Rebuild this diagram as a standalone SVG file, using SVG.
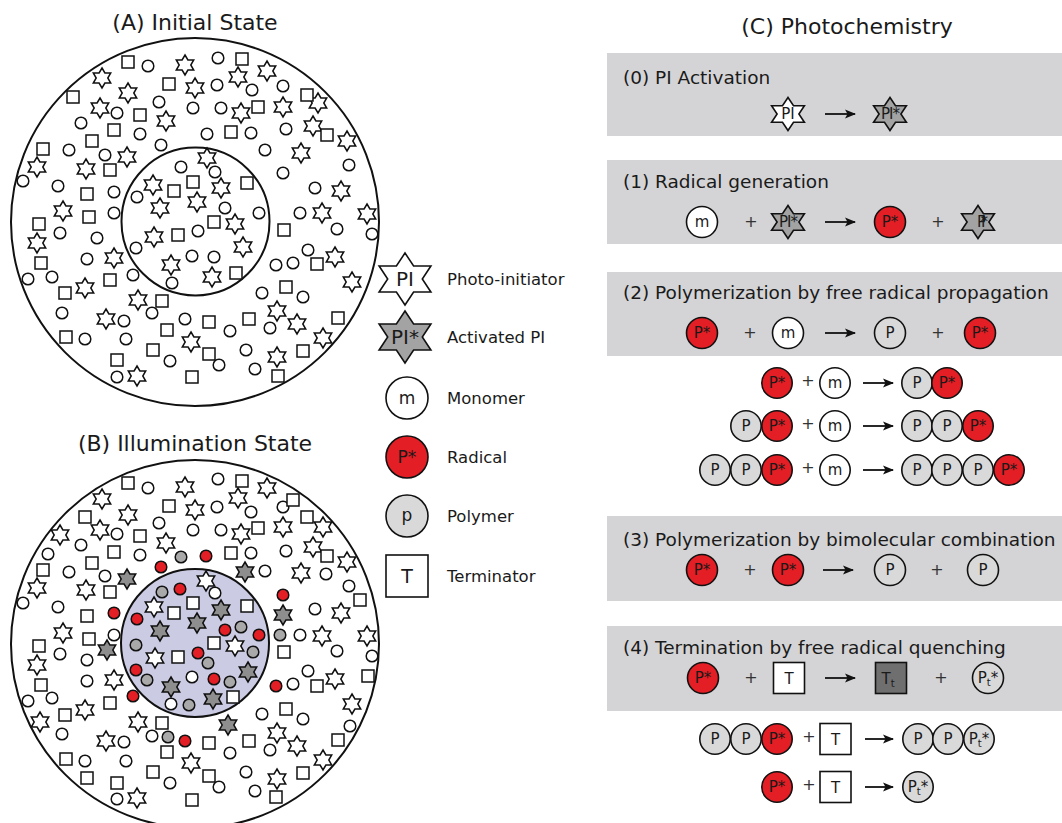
<svg xmlns="http://www.w3.org/2000/svg" xmlns:xlink="http://www.w3.org/1999/xlink" width="1062" height="823" viewBox="0 0 1062 823">
<style>
text{font-family:"DejaVu Sans","Liberation Sans",sans-serif;fill:#1a1a1a}
.title{font-size:22px;text-anchor:middle}
.bt{font-size:18.5px}
.lg{font-size:16.5px}
.ct{font-size:15px;text-anchor:middle}
.pl{font-size:16px;text-anchor:middle;fill:#333}
.o{fill:#fff;stroke:#111;stroke-width:1.5}
.gS{fill:#8e8e8e;stroke:#111;stroke-width:1.5}
.gC{fill:#a9a9a9;stroke:#111;stroke-width:1.5}
.rC{fill:#e31e24;stroke:#111;stroke-width:1.5}
.big{fill:none;stroke:#111;stroke-width:2}
.w{fill:#fff;stroke:#111;stroke-width:1.6}
.red{fill:#e31e24;stroke:#111;stroke-width:1.6}
.pg{fill:#d9d9d9;stroke:#111;stroke-width:1.6}
.ast{fill:#a3a3a3;stroke:#111;stroke-width:1.6}
.box{fill:#d4d4d6}
.arr{stroke:#111;stroke-width:1.8;fill:none;marker-end:url(#ah)}
</style>
<defs>
<polygon id="s" points="0,-10 2.9,-5 8.7,-5 5.8,0 8.7,5 2.9,5 0,10 -2.9,5 -8.7,5 -5.8,0 -8.7,-5 -2.9,-5"/>
<rect id="q" x="-6" y="-6" width="12" height="12"/>
<circle id="c" r="5.8"/>
<polygon id="L" points="0,-26 8.6,-13 25.9,-13 17.3,0 25.9,13 8.6,13 0,26 -8.6,13 -25.9,13 -17.3,0 -25.9,-13 -8.6,-13"/>
<polygon id="P" points="0,-16.5 5.5,-8.25 16.4,-8.25 10.9,0 16.4,8.25 5.5,8.25 0,16.5 -5.5,8.25 -16.4,8.25 -10.9,0 -16.4,-8.25 -5.5,-8.25"/>
<marker id="ah" markerWidth="12" markerHeight="10" refX="10" refY="5" orient="auto" markerUnits="userSpaceOnUse">
<path d="M0,0.5 L11,5 L0,9.5 L2.5,5 Z" fill="#111"/>
</marker>
</defs>
<rect width="1062" height="823" fill="#fff"/>

<g id="panelA">
<text class="title" x="195" y="30">(A) Initial State</text>
<circle class="big" cx="195" cy="222" r="184"/>
<circle class="big" cx="195.5" cy="221.5" r="74"/>
<g class="o">
<use href="#s" x="185" y="65"/><use href="#s" x="267" y="71"/><use href="#s" x="102" y="78"/><use href="#s" x="195" y="88"/><use href="#s" x="238" y="77"/><use href="#s" x="128" y="93"/><use href="#s" x="318" y="103"/><use href="#s" x="100" y="108"/><use href="#s" x="241" y="113"/><use href="#s" x="283" y="107"/><use href="#s" x="166" y="121"/><use href="#s" x="313" y="126"/><use href="#s" x="347" y="141"/><use href="#s" x="301" y="153"/><use href="#s" x="127" y="157"/><use href="#s" x="37" y="167"/><use href="#s" x="86" y="169"/><use href="#s" x="341" y="191"/><use href="#s" x="63" y="211"/><use href="#s" x="322" y="213"/><use href="#s" x="367" y="214"/><use href="#s" x="37" y="243"/><use href="#s" x="114" y="258"/><use href="#s" x="335" y="257"/><use href="#s" x="352" y="282"/><use href="#s" x="85" y="288"/><use href="#s" x="138" y="300"/><use href="#s" x="277" y="311"/><use href="#s" x="106" y="319"/><use href="#s" x="297" y="324"/><use href="#s" x="191" y="342"/><use href="#s" x="323" y="338"/><use href="#s" x="277" y="357"/><use href="#s" x="137" y="376"/>
<use href="#s" x="207" y="158"/><use href="#s" x="153" y="185"/><use href="#s" x="221" y="188"/><use href="#s" x="197" y="202"/><use href="#s" x="160" y="208"/><use href="#s" x="235" y="224"/><use href="#s" x="154" y="237"/><use href="#s" x="243" y="247"/><use href="#s" x="171" y="265"/><use href="#s" x="212" y="277"/>
<use href="#c" x="148" y="66"/><use href="#c" x="218" y="58"/><use href="#c" x="217" y="85"/><use href="#c" x="252" y="90"/><use href="#c" x="283" y="86"/><use href="#c" x="159" y="102"/><use href="#c" x="117" y="113"/><use href="#c" x="193" y="108"/><use href="#c" x="221" y="108"/><use href="#c" x="81" y="123"/><use href="#c" x="140" y="134"/><use href="#c" x="207" y="134"/><use href="#c" x="251" y="133"/><use href="#c" x="286" y="129"/><use href="#c" x="69" y="150"/><use href="#c" x="161" y="145"/><use href="#c" x="265" y="150"/><use href="#c" x="105" y="155"/><use href="#c" x="349" y="165"/><use href="#c" x="283" y="173"/><use href="#c" x="23" y="181"/><use href="#c" x="58" y="186"/><use href="#c" x="114" y="192"/><use href="#c" x="315" y="188"/><use href="#c" x="114" y="213"/><use href="#c" x="300" y="213"/><use href="#c" x="60" y="233"/><use href="#c" x="97" y="238"/><use href="#c" x="337" y="229"/><use href="#c" x="372" y="234"/><use href="#c" x="87" y="259"/><use href="#c" x="308" y="250"/><use href="#c" x="293" y="263"/><use href="#c" x="276" y="265"/><use href="#c" x="28" y="279"/><use href="#c" x="52" y="277"/><use href="#c" x="133" y="275"/><use href="#c" x="262" y="293"/><use href="#c" x="303" y="297"/><use href="#c" x="62" y="313"/><use href="#c" x="152" y="313"/><use href="#c" x="124" y="321"/><use href="#c" x="185" y="319"/><use href="#c" x="230" y="331"/><use href="#c" x="270" y="328"/><use href="#c" x="85" y="339"/><use href="#c" x="126" y="339"/><use href="#c" x="219" y="365"/><use href="#c" x="246" y="350"/><use href="#c" x="170" y="361"/><use href="#c" x="255" y="369"/><use href="#c" x="117" y="377"/>
<use href="#c" x="181" y="167"/><use href="#c" x="215" y="172"/><use href="#c" x="137" y="197"/><use href="#c" x="225" y="208"/><use href="#c" x="259" y="213"/><use href="#c" x="198" y="231"/><use href="#c" x="136" y="248"/><use href="#c" x="192" y="256"/><use href="#c" x="214" y="257"/><use href="#c" x="172" y="283"/>
<use href="#q" x="128" y="62"/><use href="#q" x="242" y="59"/><use href="#q" x="169" y="84"/><use href="#q" x="73" y="97"/><use href="#q" x="307" y="95"/><use href="#q" x="140" y="115"/><use href="#q" x="258" y="107"/><use href="#q" x="114" y="130"/><use href="#q" x="231" y="132"/><use href="#q" x="327" y="135"/><use href="#q" x="43" y="149"/><use href="#q" x="92" y="141"/><use href="#q" x="110" y="170"/><use href="#q" x="87" y="194"/><use href="#q" x="89" y="217"/><use href="#q" x="39" y="224"/><use href="#q" x="284" y="230"/><use href="#q" x="317" y="264"/><use href="#q" x="41" y="263"/><use href="#q" x="110" y="280"/><use href="#q" x="65" y="293"/><use href="#q" x="286" y="287"/><use href="#q" x="162" y="301"/><use href="#q" x="209" y="322"/><use href="#q" x="249" y="319"/><use href="#q" x="338" y="318"/><use href="#q" x="167" y="330"/><use href="#q" x="66" y="337"/><use href="#q" x="153" y="350"/><use href="#q" x="209" y="354"/><use href="#q" x="303" y="351"/><use href="#q" x="117" y="360"/><use href="#q" x="192" y="377"/><use href="#q" x="278" y="376"/>
<use href="#q" x="193" y="182"/><use href="#q" x="174" y="191"/><use href="#q" x="247" y="183"/><use href="#q" x="214" y="222"/><use href="#q" x="178" y="235"/><use href="#q" x="236" y="273"/>
</g>
</g>

<g id="panelB">
<text class="title" x="195" y="451">(B) Illumination State</text>
<circle class="big" cx="195" cy="644" r="184"/>
<circle cx="195" cy="643" r="74" fill="#cbcbe4" stroke="#111" stroke-width="2"/>
<g class="o">
<use href="#s" x="185" y="487"/><use href="#s" x="267" y="488"/><use href="#s" x="102" y="499"/><use href="#s" x="195" y="510"/><use href="#s" x="238" y="498"/><use href="#s" x="128" y="515"/><use href="#s" x="323" y="527"/><use href="#s" x="60" y="535"/><use href="#s" x="100" y="530"/><use href="#s" x="241" y="534"/><use href="#s" x="283" y="527"/><use href="#s" x="166" y="543"/><use href="#s" x="313" y="547"/><use href="#s" x="347" y="562"/><use href="#s" x="301" y="573"/><use href="#s" x="37" y="588"/><use href="#s" x="86" y="590"/><use href="#s" x="206" y="581"/><use href="#s" x="154" y="607"/><use href="#s" x="341" y="613"/><use href="#s" x="63" y="633"/><use href="#s" x="322" y="636"/><use href="#s" x="367" y="636"/><use href="#s" x="235" y="646"/><use href="#s" x="37" y="665"/><use href="#s" x="155" y="658"/><use href="#s" x="114" y="680"/><use href="#s" x="335" y="679"/><use href="#s" x="352" y="704"/><use href="#s" x="85" y="710"/><use href="#s" x="40" y="722"/><use href="#s" x="138" y="722"/><use href="#s" x="277" y="733"/><use href="#s" x="106" y="741"/><use href="#s" x="297" y="746"/><use href="#s" x="191" y="763"/><use href="#s" x="323" y="760"/><use href="#s" x="277" y="779"/><use href="#s" x="137" y="798"/>
<use href="#c" x="148" y="488"/><use href="#c" x="218" y="479"/><use href="#c" x="217" y="507"/><use href="#c" x="251" y="512"/><use href="#c" x="283" y="507"/><use href="#c" x="159" y="523"/><use href="#c" x="117" y="534"/><use href="#c" x="193" y="530"/><use href="#c" x="221" y="530"/><use href="#c" x="81" y="545"/><use href="#c" x="48" y="554"/><use href="#c" x="140" y="555"/><use href="#c" x="251" y="553"/><use href="#c" x="286" y="551"/><use href="#c" x="69" y="572"/><use href="#c" x="265" y="571"/><use href="#c" x="326" y="574"/><use href="#c" x="105" y="576"/><use href="#c" x="215" y="593"/><use href="#c" x="349" y="586"/><use href="#c" x="23" y="603"/><use href="#c" x="58" y="607"/><use href="#c" x="315" y="609"/><use href="#c" x="300" y="635"/><use href="#c" x="114" y="635"/><use href="#c" x="60" y="654"/><use href="#c" x="337" y="651"/><use href="#c" x="372" y="656"/><use href="#c" x="87" y="660"/><use href="#c" x="308" y="671"/><use href="#c" x="87" y="681"/><use href="#c" x="192" y="677"/><use href="#c" x="293" y="684"/><use href="#c" x="28" y="701"/><use href="#c" x="52" y="698"/><use href="#c" x="171" y="704"/><use href="#c" x="262" y="714"/><use href="#c" x="303" y="719"/><use href="#c" x="62" y="734"/><use href="#c" x="152" y="736"/><use href="#c" x="350" y="726"/><use href="#c" x="124" y="742"/><use href="#c" x="230" y="753"/><use href="#c" x="270" y="750"/><use href="#c" x="85" y="761"/><use href="#c" x="126" y="761"/><use href="#c" x="219" y="787"/><use href="#c" x="246" y="772"/><use href="#c" x="170" y="783"/><use href="#c" x="255" y="791"/><use href="#c" x="117" y="799"/>
<use href="#q" x="128" y="483"/><use href="#q" x="242" y="481"/><use href="#q" x="169" y="506"/><use href="#q" x="293" y="500"/><use href="#q" x="85" y="517"/><use href="#q" x="307" y="517"/><use href="#q" x="140" y="536"/><use href="#q" x="258" y="528"/><use href="#q" x="114" y="552"/><use href="#q" x="231" y="553"/><use href="#q" x="327" y="556"/><use href="#q" x="43" y="570"/><use href="#q" x="92" y="563"/><use href="#q" x="110" y="592"/><use href="#q" x="360" y="600"/><use href="#q" x="193" y="603"/><use href="#q" x="174" y="613"/><use href="#q" x="247" y="606"/><use href="#q" x="87" y="616"/><use href="#q" x="89" y="639"/><use href="#q" x="39" y="646"/><use href="#q" x="214" y="643"/><use href="#q" x="284" y="652"/><use href="#q" x="178" y="657"/><use href="#q" x="317" y="686"/><use href="#q" x="368" y="676"/><use href="#q" x="41" y="685"/><use href="#q" x="110" y="703"/><use href="#q" x="233" y="697"/><use href="#q" x="65" y="715"/><use href="#q" x="286" y="709"/><use href="#q" x="162" y="723"/><use href="#q" x="209" y="743"/><use href="#q" x="249" y="741"/><use href="#q" x="338" y="740"/><use href="#q" x="167" y="752"/><use href="#q" x="66" y="759"/><use href="#q" x="87" y="778"/><use href="#q" x="153" y="772"/><use href="#q" x="209" y="776"/><use href="#q" x="303" y="773"/><use href="#q" x="117" y="783"/><use href="#q" x="192" y="800"/><use href="#q" x="276" y="797"/>
</g>
<g class="gS">
<use href="#s" x="245" y="572"/><use href="#s" x="127" y="579"/><use href="#s" x="221" y="610"/><use href="#s" x="197" y="623"/><use href="#s" x="283" y="615"/><use href="#s" x="160" y="631"/><use href="#s" x="107" y="650"/><use href="#s" x="248" y="672"/><use href="#s" x="171" y="687"/><use href="#s" x="213" y="699"/><use href="#s" x="228" y="725"/>
</g>
<g class="gC">
<use href="#c" x="181" y="557"/><use href="#c" x="162" y="592"/><use href="#c" x="241" y="627"/><use href="#c" x="280" y="635"/><use href="#c" x="136" y="645"/><use href="#c" x="253" y="652"/><use href="#c" x="208" y="663"/><use href="#c" x="147" y="680"/><use href="#c" x="230" y="682"/><use href="#c" x="189" y="705"/><use href="#c" x="168" y="737"/>
</g>
<g class="rC">
<use href="#c" x="206" y="556"/><use href="#c" x="161" y="567"/><use href="#c" x="180" y="589"/><use href="#c" x="283" y="595"/><use href="#c" x="114" y="613"/><use href="#c" x="137" y="619"/><use href="#c" x="225" y="630"/><use href="#c" x="259" y="635"/><use href="#c" x="198" y="653"/><use href="#c" x="136" y="670"/><use href="#c" x="214" y="679"/><use href="#c" x="276" y="686"/><use href="#c" x="133" y="696"/><use href="#c" x="185" y="741"/>
</g>
</g>

<g id="legend">
<g id="lg-pi"><use href="#L" x="405" y="279" class="w"/><text x="405" y="286" font-size="20" text-anchor="middle">PI</text><text class="lg" x="447" y="285">Photo-initiator</text></g>
<g id="lg-pia"><use href="#L" x="405" y="337" class="ast"/><text x="405" y="344" font-size="20" text-anchor="middle">PI*</text><text class="lg" x="447" y="343">Activated PI</text></g>
<g id="lg-m"><circle cx="407" cy="398" r="21" class="w"/><text x="407" y="404" font-size="17" text-anchor="middle">m</text><text class="lg" x="447" y="404">Monomer</text></g>
<g id="lg-r"><circle cx="407" cy="457" r="21" class="red"/><text x="407" y="463" font-size="17" text-anchor="middle">P*</text><text class="lg" x="447" y="463">Radical</text></g>
<g id="lg-p"><circle cx="407" cy="516" r="21" class="pg"/><text x="407" y="521" font-size="17" text-anchor="middle">p</text><text class="lg" x="447" y="522">Polymer</text></g>
<g id="lg-t"><rect x="386" y="555" width="42" height="42" class="w"/><text x="407" y="583" font-size="19" text-anchor="middle">T</text><text class="lg" x="447" y="582">Terminator</text></g>
</g>

<g id="panelC">
<text class="title" x="847" y="34">(C) Photochemistry</text>

<g id="box0">
<rect class="box" x="607" y="53" width="455" height="83"/>
<text class="bt" x="623" y="84">(0) PI Activation</text>
<use href="#P" x="788" y="114" class="w"/><text class="ct" x="788" y="119">PI</text>
<use href="#P" x="890" y="114" class="ast"/><text class="ct" x="890" y="119" letter-spacing="-1">PI*</text>
</g>

<g id="box1">
<rect class="box" x="607" y="160" width="455" height="84"/>
<text class="bt" x="623" y="188">(1) Radical generation</text>
<circle cx="702" cy="222" r="15.5" class="w"/><text class="ct" x="702" y="227">m</text>
<text class="pl" x="751" y="227">+</text>
<use href="#P" x="788" y="222" class="ast"/><text class="ct" x="788" y="227" letter-spacing="-1">PI*</text>
<circle cx="890" cy="222" r="15.5" class="red"/><text class="ct" x="890" y="227">P*</text>
<text class="pl" x="938" y="227">+</text>
<use href="#P" x="978" y="222" class="ast"/><text class="ct" x="980" y="227" letter-spacing="-5">PI*</text>
</g>

<g id="box2">
<rect class="box" x="607" y="272" width="455" height="84"/>
<text class="bt" x="623" y="299">(2) Polymerization by free radical propagation</text>
<circle cx="702" cy="333" r="15.5" class="red"/><text class="ct" x="702" y="338">P*</text>
<text class="pl" x="750" y="338">+</text>
<circle cx="788" cy="333" r="15.5" class="w"/><text class="ct" x="788" y="338">m</text>
<circle cx="890" cy="333" r="15.5" class="pg"/><text class="ct" x="890" y="338">P</text>
<text class="pl" x="938" y="338">+</text>
<circle cx="980" cy="333" r="15.5" class="red"/><text class="ct" x="980" y="338">P*</text>
</g>

<g id="prop1">
<circle cx="777" cy="383" r="15.2" class="red"/><text class="ct" x="777" y="388">P*</text>
<text class="pl" x="808" y="386">+</text>
<circle cx="835" cy="383" r="15.2" class="w"/><text class="ct" x="835" y="388">m</text>
<circle cx="917" cy="383" r="15.2" class="pg"/><text class="ct" x="917" y="388">P</text>
<circle cx="947" cy="383" r="15.2" class="red"/><text class="ct" x="947" y="388">P*</text>
</g>
<g id="prop2">
<circle cx="746" cy="426" r="15.2" class="pg"/><text class="ct" x="746" y="431">P</text>
<circle cx="777" cy="426" r="15.2" class="red"/><text class="ct" x="777" y="431">P*</text>
<text class="pl" x="808" y="429">+</text>
<circle cx="835" cy="426" r="15.2" class="w"/><text class="ct" x="835" y="431">m</text>
<circle cx="917" cy="426" r="15.2" class="pg"/><text class="ct" x="917" y="431">P</text>
<circle cx="947" cy="426" r="15.2" class="pg"/><text class="ct" x="947" y="431">P</text>
<circle cx="978" cy="426" r="15.2" class="red"/><text class="ct" x="978" y="431">P*</text>
</g>
<g id="prop3">
<circle cx="715" cy="470" r="15.2" class="pg"/><text class="ct" x="715" y="475">P</text>
<circle cx="746" cy="470" r="15.2" class="pg"/><text class="ct" x="746" y="475">P</text>
<circle cx="777" cy="470" r="15.2" class="red"/><text class="ct" x="777" y="475">P*</text>
<text class="pl" x="808" y="473">+</text>
<circle cx="835" cy="470" r="15.2" class="w"/><text class="ct" x="835" y="475">m</text>
<circle cx="917" cy="470" r="15.2" class="pg"/><text class="ct" x="917" y="475">P</text>
<circle cx="947" cy="470" r="15.2" class="pg"/><text class="ct" x="947" y="475">P</text>
<circle cx="978" cy="470" r="15.2" class="pg"/><text class="ct" x="978" y="475">P</text>
<circle cx="1009" cy="470" r="15.2" class="red"/><text class="ct" x="1009" y="475">P*</text>
</g>

<g id="box3">
<rect class="box" x="607" y="516" width="455" height="85"/>
<text class="bt" x="623" y="546">(3) Polymerization by bimolecular combination</text>
<circle cx="702" cy="570" r="15.5" class="red"/><text class="ct" x="702" y="575">P*</text>
<text class="pl" x="750" y="575">+</text>
<circle cx="788" cy="570" r="15.5" class="red"/><text class="ct" x="788" y="575">P*</text>
<circle cx="890" cy="570" r="15.5" class="pg"/><text class="ct" x="890" y="575">P</text>
<text class="pl" x="937" y="575">+</text>
<circle cx="983" cy="570" r="15.5" class="pg"/><text class="ct" x="983" y="575">P</text>
</g>

<g id="box4">
<rect class="box" x="607" y="626" width="455" height="85"/>
<text class="bt" x="623" y="654">(4) Termination by free radical quenching</text>
<circle cx="703" cy="678" r="15.5" class="red"/><text class="ct" x="703" y="683">P*</text>
<text class="pl" x="751" y="683">+</text>
<rect x="773.5" y="662.5" width="31" height="31" class="w"/><text class="ct" x="789" y="684">T</text>
<rect x="875.5" y="662.5" width="31" height="31" fill="#6f6f6f" stroke="#111" stroke-width="1.6"/><text x="888" y="684" font-size="15" text-anchor="middle">T<tspan font-size="10" dy="3">t</tspan></text>
<text class="pl" x="941" y="683">+</text>
<circle cx="988" cy="678" r="15.5" class="pg"/><text x="988" y="683" font-size="15" text-anchor="middle">P<tspan font-size="10" dy="3">t</tspan><tspan dy="-3">*</tspan></text>
</g>

<g id="term1">
<circle cx="715" cy="739" r="15.2" class="pg"/><text class="ct" x="715" y="744">P</text>
<circle cx="746" cy="739" r="15.2" class="pg"/><text class="ct" x="746" y="744">P</text>
<circle cx="777" cy="739" r="15.2" class="red"/><text class="ct" x="777" y="744">P*</text>
<text class="pl" x="809" y="742">+</text>
<rect x="820" y="723.5" width="31" height="31" class="w"/><text class="ct" x="835.5" y="745">T</text>
<circle cx="918" cy="739" r="15.2" class="pg"/><text class="ct" x="918" y="744">P</text>
<circle cx="948" cy="739" r="15.2" class="pg"/><text class="ct" x="948" y="744">P</text>
<circle cx="979" cy="739" r="15.2" class="pg"/><text x="979" y="744" font-size="15" text-anchor="middle">P<tspan font-size="10" dy="3">t</tspan><tspan dy="-3">*</tspan></text>
</g>
<g id="term2">
<circle cx="777" cy="787" r="15.2" class="red"/><text class="ct" x="777" y="792">P*</text>
<text class="pl" x="809" y="790">+</text>
<rect x="820" y="771.5" width="31" height="31" class="w"/><text class="ct" x="835.5" y="793">T</text>
<circle cx="918" cy="787" r="15.2" class="pg"/><text x="918" y="792" font-size="15" text-anchor="middle">P<tspan font-size="10" dy="3">t</tspan><tspan dy="-3">*</tspan></text>
</g>
</g>

<g id="connectors">
<line class="arr" x1="825" y1="114" x2="855" y2="114"/>
<line class="arr" x1="825" y1="222" x2="855" y2="222"/>
<line class="arr" x1="825" y1="333" x2="855" y2="333"/>
<line class="arr" x1="863" y1="383" x2="893" y2="383"/>
<line class="arr" x1="863" y1="426" x2="893" y2="426"/>
<line class="arr" x1="863" y1="470" x2="893" y2="470"/>
<line class="arr" x1="823" y1="570" x2="853" y2="570"/>
<line class="arr" x1="825" y1="678" x2="855" y2="678"/>
<line class="arr" x1="865" y1="739" x2="893" y2="739"/>
<line class="arr" x1="865" y1="787" x2="893" y2="787"/>
</g>
</svg>
